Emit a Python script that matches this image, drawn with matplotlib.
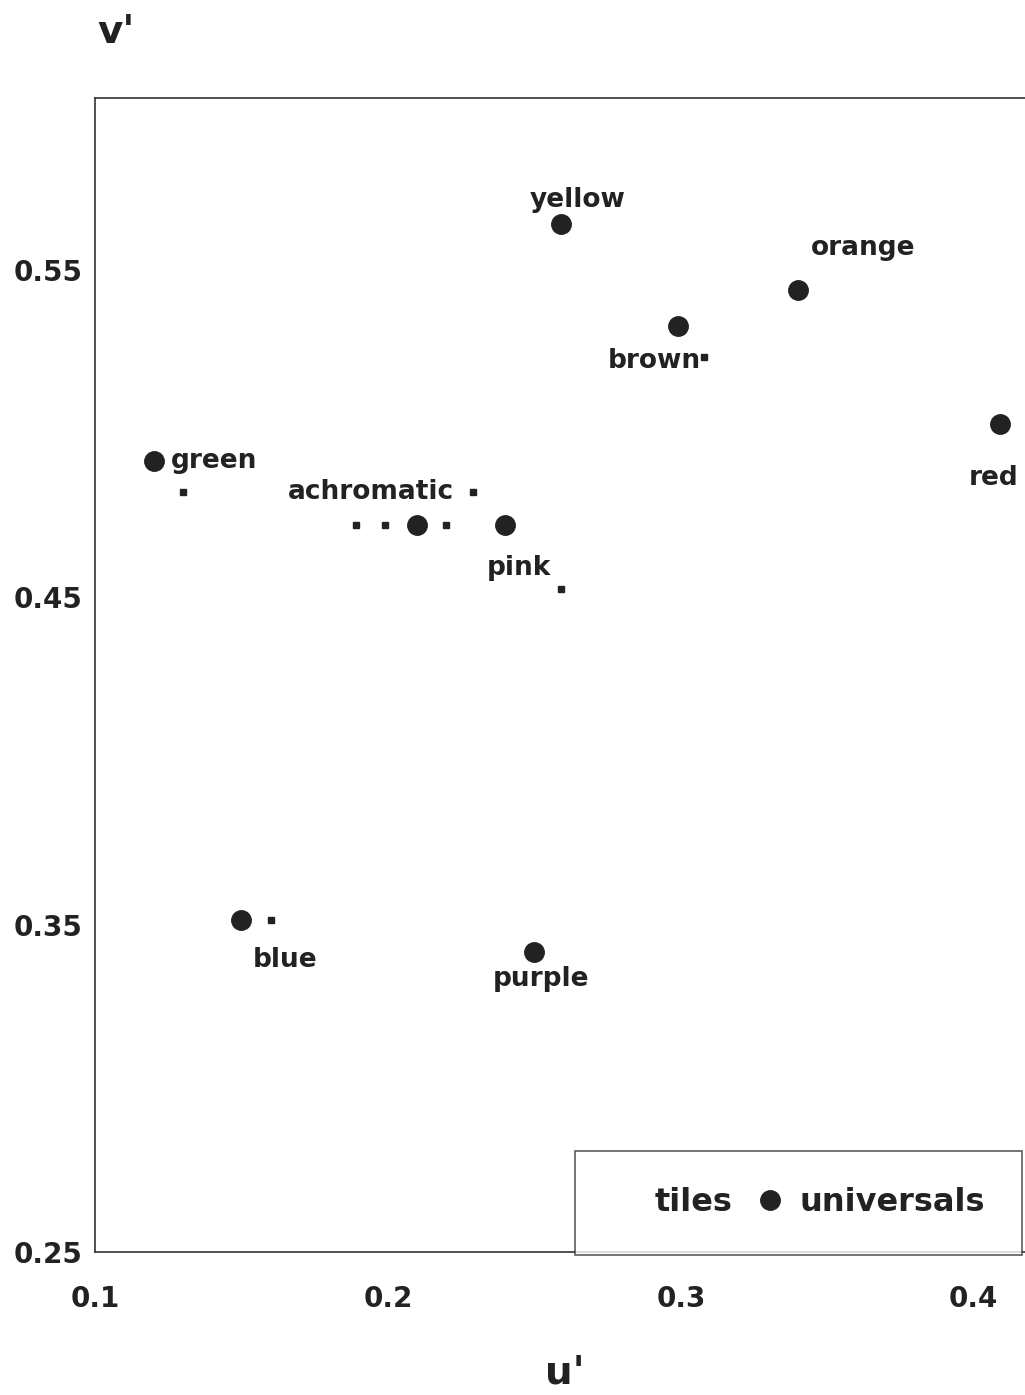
import matplotlib
matplotlib.use("Agg")
import matplotlib.pyplot as plt
from matplotlib.lines import Line2D

plt.rcParams['font.family'] = ['DejaVu Sans']
plt.rcParams['font.weight'] = 'bold'

# universals (big dots), CIE u'v'
names = ['yellow', 'orange', 'brown', 'red', 'green', 'achromatic', 'pink', 'blue', 'purple']
u_univ = [0.259, 0.340, 0.299, 0.409, 0.120, 0.210, 0.240, 0.150, 0.250]
v_univ = [0.564, 0.544, 0.533, 0.503, 0.4915, 0.472, 0.472, 0.3515, 0.3415]

# tiles (small squares)
u_tiles = [0.130, 0.229, 0.189, 0.199, 0.220, 0.160, 0.308, 0.259]
v_tiles = [0.482, 0.482, 0.472, 0.472, 0.472, 0.3515, 0.5235, 0.4525]

xticks = [0.1, 0.2, 0.3, 0.4]
yticks = [0.25, 0.35, 0.45, 0.55]

# label offsets in pixels and alignment
label_off = {
    'yellow': (17, 24, 'center'),
    'orange': (65, 42, 'center'),
    'brown': (-24, -35, 'center'),
    'red': (-6, -54, 'center'),
    'green': (17, 0, 'left'),
    'achromatic': (-46, 33, 'center'),
    'pink': (14, -43, 'center'),
    'blue': (44, -40, 'center'),
    'purple': (7, -27, 'center'),
}

ink = '#222222'
fig = plt.figure(figsize=(10.25, 13.95), dpi=100)
ax = fig.add_axes([95 / 1025, 1 - 1252 / 1395, 1 - 95 / 1025, (1252 - 98) / 1395])

ax.plot(u_univ, v_univ, 'o', color=ink, markersize=14, linestyle='none')
ax.plot(u_tiles, v_tiles, 's', color=ink, markersize=4, linestyle='none')

for n, x, y in zip(names, u_univ, v_univ):
    dx, dy, ha = label_off[n]
    ax.annotate(n, (x, y), xytext=(dx, dy), textcoords='offset pixels',
                ha=ha, va='center', fontsize=19, color=ink, fontweight='bold')

ax.set_xlim(0.1, 0.4175)
ax.set_ylim(0.25, 0.6025)
ax.set_xticks(xticks)
ax.set_xticklabels([str(t) for t in xticks])
ax.set_yticks(yticks)
ax.set_yticklabels([str(t) for t in yticks])
ax.tick_params(length=0, labelsize=20, colors=ink)
ax.tick_params(axis='y', pad=9)
ax.tick_params(axis='x', pad=24, labelsize=20)
for lab in ax.get_xticklabels() + ax.get_yticklabels():
    lab.set_fontweight('bold')
ax.spines['right'].set_visible(False)
for s in ['left', 'top', 'bottom']:
    ax.spines[s].set_linewidth(1.2)
    ax.spines[s].set_color('#333333')

handles = [Line2D([], [], marker='s', markersize=0, linestyle='none', color=ink),
           Line2D([], [], marker='o', markersize=14, linestyle='none', color=ink)]
leg = ax.legend(handles, ['tiles', 'universals'], ncol=2, loc='lower right',
                bbox_to_anchor=(0.9968, -0.0026), borderaxespad=0,
                fontsize=23, frameon=True, fancybox=False, borderpad=1.15,
                handletextpad=0.5, columnspacing=0.75, handlelength=0.85)
leg.get_frame().set_edgecolor('#333333')
leg.get_frame().set_linewidth(1.2)
for t in leg.get_texts():
    t.set_color(ink)

fig.text(116 / 1025, 1 - 32 / 1395, "v'", fontsize=28, fontweight='bold',
         ha='center', va='center', color=ink)
fig.text(565 / 1025, 1 - 1372 / 1395, "u'", fontsize=28, fontweight='bold',
         ha='center', va='center', color=ink)

fig.savefig('out.png', dpi=100)
